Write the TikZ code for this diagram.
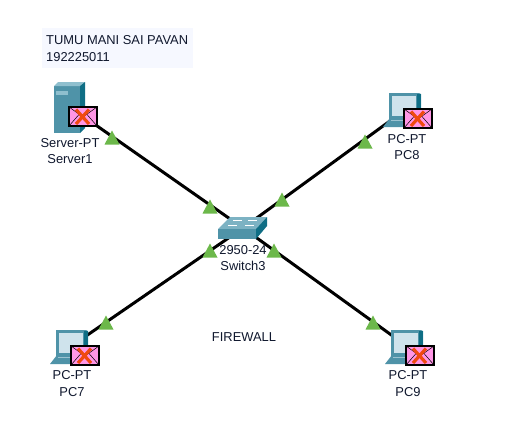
\documentclass[tikz,border=0pt]{standalone}
\usepackage{fontspec}
\setmainfont{Liberation Sans}
\definecolor{linkc}{HTML}{000000}
\definecolor{trig}{HTML}{6CB84A}
\definecolor{teal1}{HTML}{4F93A8}
\definecolor{teal2}{HTML}{0F6E85}
\definecolor{teal3}{HTML}{8FBFCE}
\definecolor{screenc}{HTML}{CFE3EC}
\definecolor{envc}{HTML}{FF96E6}
\definecolor{xc}{HTML}{F04A10}
\definecolor{notec}{HTML}{F6F8FF}
\definecolor{txtc}{HTML}{10182E}
\tikzset{
  x=1pt,y=-1pt,
  link/.style={line width=3pt,draw=linkc},
  devlabel/.style={font=\fontsize{12.9}{16.5}\selectfont,text=txtc,align=center,inner sep=0pt},
  anchorpt/.style={inner sep=0pt,minimum size=0pt},
  pics/envmark/.style={code={
    \fill[envc] (0,0) rectangle (28,19);
    \draw[black,line width=0.5pt] (0,0) -- (14,10) -- (28,0);
    \draw[black,line width=0.5pt] (0,19) -- (10,7.5) (28,19) -- (18,7.5);
    \draw[black,line width=1.2pt] (0,0) rectangle (28,19);
    \draw[xc,line width=3.2pt] (7,2.5) -- (20,17) (20,2.5) -- (7,17);
  }},
  pics/pcicon/.style={code={
    \fill[teal1] (0,0) -- (30,0) -- (32,1) -- (32,28) -- (0,28) -- cycle;
    \fill[teal2] (28,1) -- (32,1) -- (32,28) -- (28,28) -- cycle;
    \fill[screenc] (3,3) -- (27,3) -- (27,23) -- (3,23) -- cycle;
    \fill[teal1] (-6,34) -- (1,25) -- (32,25) -- (26,34) -- cycle;
    \fill[screenc!60!teal1] (2,26.5) rectangle (24,28);
    \pic at (15,16) {envmark};
  }},
  pics/servericon/.style={code={
    \fill[teal1] (0,4) -- (26,4) -- (26,51) -- (0,51) -- cycle;
    \fill[teal3] (0,4) -- (4,0) -- (31,0) -- (26,4) -- cycle;
    \fill[teal2] (26,4) -- (31,0) -- (31,46) -- (26,51) -- cycle;
    \fill[teal3] (2,9) rectangle (14,13);
    \pic at (15,25) {envmark};
  }},
  pics/switchicon/.style={code={
    \fill[teal3!70!teal1] (0,12) -- (12,0) -- (49,0) -- (38,12) -- cycle;
    \fill[teal1] (0,12) rectangle (38,22);
    \fill[teal2] (38,12) -- (49,0) -- (49,9) -- (38,22) -- cycle;
    \draw[white,line width=0.7pt] (15,3) -- (24,3) (30,3) -- (39,3) (10,8) -- (19,8) (27,8) -- (36,8);
  }},
}
\newcommand{\linktri}[1]{\fill[trig] (#1) ++(0,-7.5) -- ++(7.5,14) -- ++(-15,0) -- cycle;}
\begin{document}
\begin{tikzpicture}
\useasboundingbox (0,0) rectangle (512,442);
\fill[white] (0,0) rectangle (512,442);
\fill[notec] (42,28) rectangle (193,68);
\node[devlabel,anchor=west,align=left] (note) at (46,48.5) {TUMU MANI SAI PAVAN\\192225011};

\node[anchorpt] (server) at (70,107) {};
\node[anchorpt] (pc8) at (405,110) {};
\node[anchorpt] (pc7) at (70,347) {};
\node[anchorpt] (pc9) at (408,347) {};
\node[anchorpt] (switch) at (243,228) {};

\draw[link] (server) -- (switch);
\draw[link] (pc8) -- (switch);
\draw[link] (pc7) -- (switch);
\draw[link] (pc9) -- (switch);

\linktri{112,138}
\linktri{210,207}
\linktri{365,142}
\linktri{282,200}
\linktri{106,323}
\linktri{210,251}
\linktri{373,323}
\linktri{274,251}

\pic at (54,82) {servericon};
\pic at (389,93) {pcicon};
\pic at (56,330) {pcicon};
\pic at (391,330) {pcicon};
\pic at (218,217) {switchicon};

\node[devlabel] (serverlabel) at (70,151) {Server-PT\\Server1};
\node[devlabel] (pc8label) at (407,147) {PC-PT\\PC8};
\node[devlabel] (pc7label) at (72,383.5) {PC-PT\\PC7};
\node[devlabel] (pc9label) at (408,383.5) {PC-PT\\PC9};
\node[devlabel] (switchlabel) at (243,258) {2950-24\\Switch3};
\node[devlabel] (firewall) at (244,337) {FIREWALL};
\end{tikzpicture}
\end{document}
